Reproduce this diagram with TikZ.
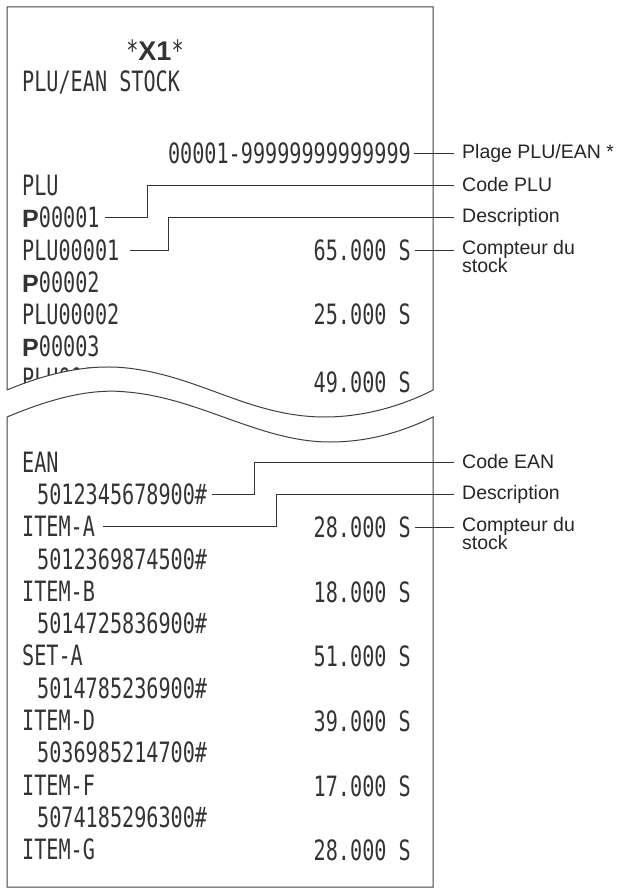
\documentclass[tikz,border=0pt]{standalone}
\usepackage{fontspec}
\setmainfont{Liberation Sans}
\newfontfamily\rcpt[FakeStretch=0.72]{DejaVu Sans Mono}
\newfontfamily\bsans{Liberation Sans}
\begin{document}
\begin{tikzpicture}[x=1pt,y=-1pt,
  rc/.style={font=\rcpt\fontsize{28}{30}\selectfont, text=black!80, inner sep=0pt, anchor=west},
  rv/.style={font=\rcpt\fontsize{28}{30}\selectfont, text=black!80, inner sep=0pt, anchor=east},
  lab/.style={font=\fontsize{19.5}{21}\selectfont, text=black!85, inner sep=0pt, anchor=west, align=left},
  lead/.style={draw=black!80, line width=0.9pt},
  edge/.style={draw=black!75, line width=1pt}]
\fill[white] (0,0) rectangle (628,890);
% --- upper piece text
\node[inner sep=0pt, text=black!80] (x1) at (155,50) {\rcpt\fontsize{28}{30}\selectfont *\bsans\bfseries\fontsize{27}{30}\selectfont X1\rcpt\mdseries\fontsize{28}{30}\selectfont *};
\node[rc] (title) at (22,82) {PLU/EAN STOCK};
\node[rv] (range) at (411,153) {00001-99999999999999};
\node[rc] (plu) at (22,185) {PLU};
\newcommand{\bigP}{{\bsans\bfseries\fontsize{25}{30}\selectfont P}}
\node[rc] (p1) at (22,217) {\bigP 00001};
\node[rc] (d1) at (22,250) {PLU00001};
\node[rv] (v1) at (411,250) {65.000 S};
\node[rc] (p2) at (22,282) {\bigP 00002};
\node[rc] (d2) at (22,314) {PLU00002};
\node[rv] (v2) at (411,314) {25.000 S};
\node[rc] (p3) at (22,346) {\bigP 00003};
\node[rc] (d3) at (22,378) {PLU00003};
\node[rv] (v3) at (411,382) {49.000 S};
% cover below tear
\fill[white] (7,390) .. controls (50,372) and (90,364) .. (127,368) .. controls (200,376) and (250,417) .. (325,417) .. controls (370,417) and (410,402) .. (433,390) -- (440,390) -- (440,460) -- (0,460) -- (0,390) -- cycle;
% outlines
\draw[edge] (7,390) -- (7,7) -- (433,7) -- (433,390) .. controls (410,402) and (370,417) .. (325,417) .. controls (250,417) and (200,376) .. (127,368) .. controls (90,364) and (50,372) .. (7,390);
\draw[edge] (7,417) .. controls (50,399) and (90,388) .. (127,392) .. controls (200,398) and (260,442) .. (330,442) .. controls (375,442) and (410,428) .. (433,417) -- (433,887) -- (7,887) -- cycle;
% --- lower piece text
\node[rc] (ean) at (22,462) {EAN};
\newcommand{\row}[4]{%
  \node[rc] (b#1) at (37,{462+32.3*(2*#1-1)}) {#2};
  \node[rc] (n#1) at (22,{462+32.3*(2*#1)}) {#3};
  \node[rv] (w#1) at (411,{462+32.3*(2*#1)+1}) {#4};}
\row{1}{5012345678900\#}{ITEM-A}{28.000 S}
\row{2}{5012369874500\#}{ITEM-B}{18.000 S}
\row{3}{5014725836900\#}{SET-A}{51.000 S}
\row{4}{5014785236900\#}{ITEM-D}{39.000 S}
\row{5}{5036985214700\#}{ITEM-F}{17.000 S}
\row{6}{5074185296300\#}{ITEM-G}{28.000 S}
% --- labels upper
\node[lab] (lrange) at (462,153) {Plage PLU/EAN *};
\node[lab] (lcplu) at (462,185) {Code PLU};
\node[lab] (ldesc1) at (462,217) {Description};
\node[lab, anchor=north west] (lcpt1) at (462,240) {Compteur du\\[-3pt]stock};
\draw[lead] ([xshift=3pt]range.east) -- ([xshift=-8pt]lrange.west);
\draw[lead] ([xshift=5pt]p1.east) -| (147,185) -- ([xshift=-8pt]lcplu.west);
\draw[lead] ([xshift=10pt]d1.east) -| (168,217) -- ([xshift=-8pt]ldesc1.west);
\draw[lead] ([xshift=4pt]v1.east) -- ([xshift=-8pt]lcpt1.north west |- v1.east);
% --- labels lower
\node[lab] (lcean) at (462,462) {Code EAN};
\node[lab] (ldesc2) at (462,494) {Description};
\node[lab, anchor=north west] (lcpt2) at (462,517) {Compteur du\\[-3pt]stock};
\draw[lead] ([xshift=5pt]b1.east) -| (254,462) -- ([xshift=-8pt]lcean.west);
\draw[lead] ([xshift=8pt]n1.east) -| (276,494) -- ([xshift=-8pt]ldesc2.west);
\draw[lead] ([xshift=4pt]w1.east) -- ([xshift=-8pt]lcpt2.north west |- w1.east);
\end{tikzpicture}
\end{document}
